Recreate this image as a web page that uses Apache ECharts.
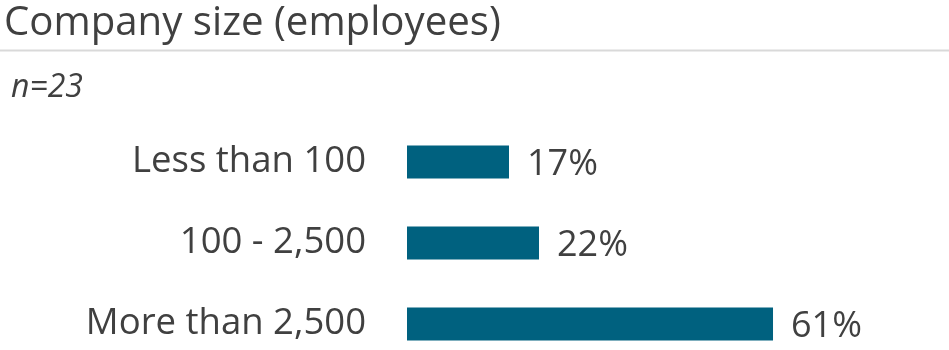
<!DOCTYPE html>
<html>
<head>
<meta charset="utf-8">
<script src="https://cdn.jsdelivr.net/npm/echarts@6/dist/echarts.min.js"></script>
<style>
html,body{margin:0;padding:0;background:#fff;}
#chart{width:949px;height:350px;}
</style>
</head>
<body>
<div id="chart"></div>
<script>
var titleText = "Company size (employees)";
var subtitleText = "n=23";
var categories = ["Less than 100", "100 - 2,500", "More than 2,500"];
var values = [17, 22, 61];

var chart = echarts.init(document.getElementById('chart'), null, {renderer: 'canvas'});
var FONT = '"Open Sans", "Noto Sans", sans-serif';
chart.setOption({
  animation: false,
  backgroundColor: '#ffffff',
  textStyle: {fontFamily: FONT},
  title: [
    {text: titleText, left: -1, top: -1, textStyle: {fontFamily: FONT, fontSize: 40.2, fontWeight: 'normal', color: '#404040'}},
    {text: subtitleText, left: 6, top: 67, textStyle: {fontFamily: FONT, fontSize: 32, fontStyle: 'italic', fontWeight: 'normal', color: '#404040'}}
  ],
  graphic: [
    {type: 'line', shape: {x1: 0, y1: 50.5, x2: 949, y2: 50.5}, style: {stroke: '#d9d9d9', lineWidth: 2}}
  ],
  grid: {left: 407, top: 162, right: 0, height: 162, containLabel: false},
  xAxis: {type: 'value', min: 0, max: 90.33, show: false},
  yAxis: {
    type: 'category', data: categories, inverse: true, boundaryGap: false,
    axisLine: {show: false}, axisTick: {show: false}, splitLine: {show: false},
    axisLabel: {margin: 41, fontFamily: FONT, fontSize: 36.5, color: '#404040', padding: [5, 0, 0, 0]}
  },
  series: [{
    type: 'bar', data: values, barWidth: 33,
    itemStyle: {color: '#00617f'},
    label: {show: true, position: 'right', distance: 18, formatter: '{c}%', fontFamily: FONT, fontSize: 36, color: '#404040', offset: [0, 3]}
  }]
});
</script>
</body>
</html>
